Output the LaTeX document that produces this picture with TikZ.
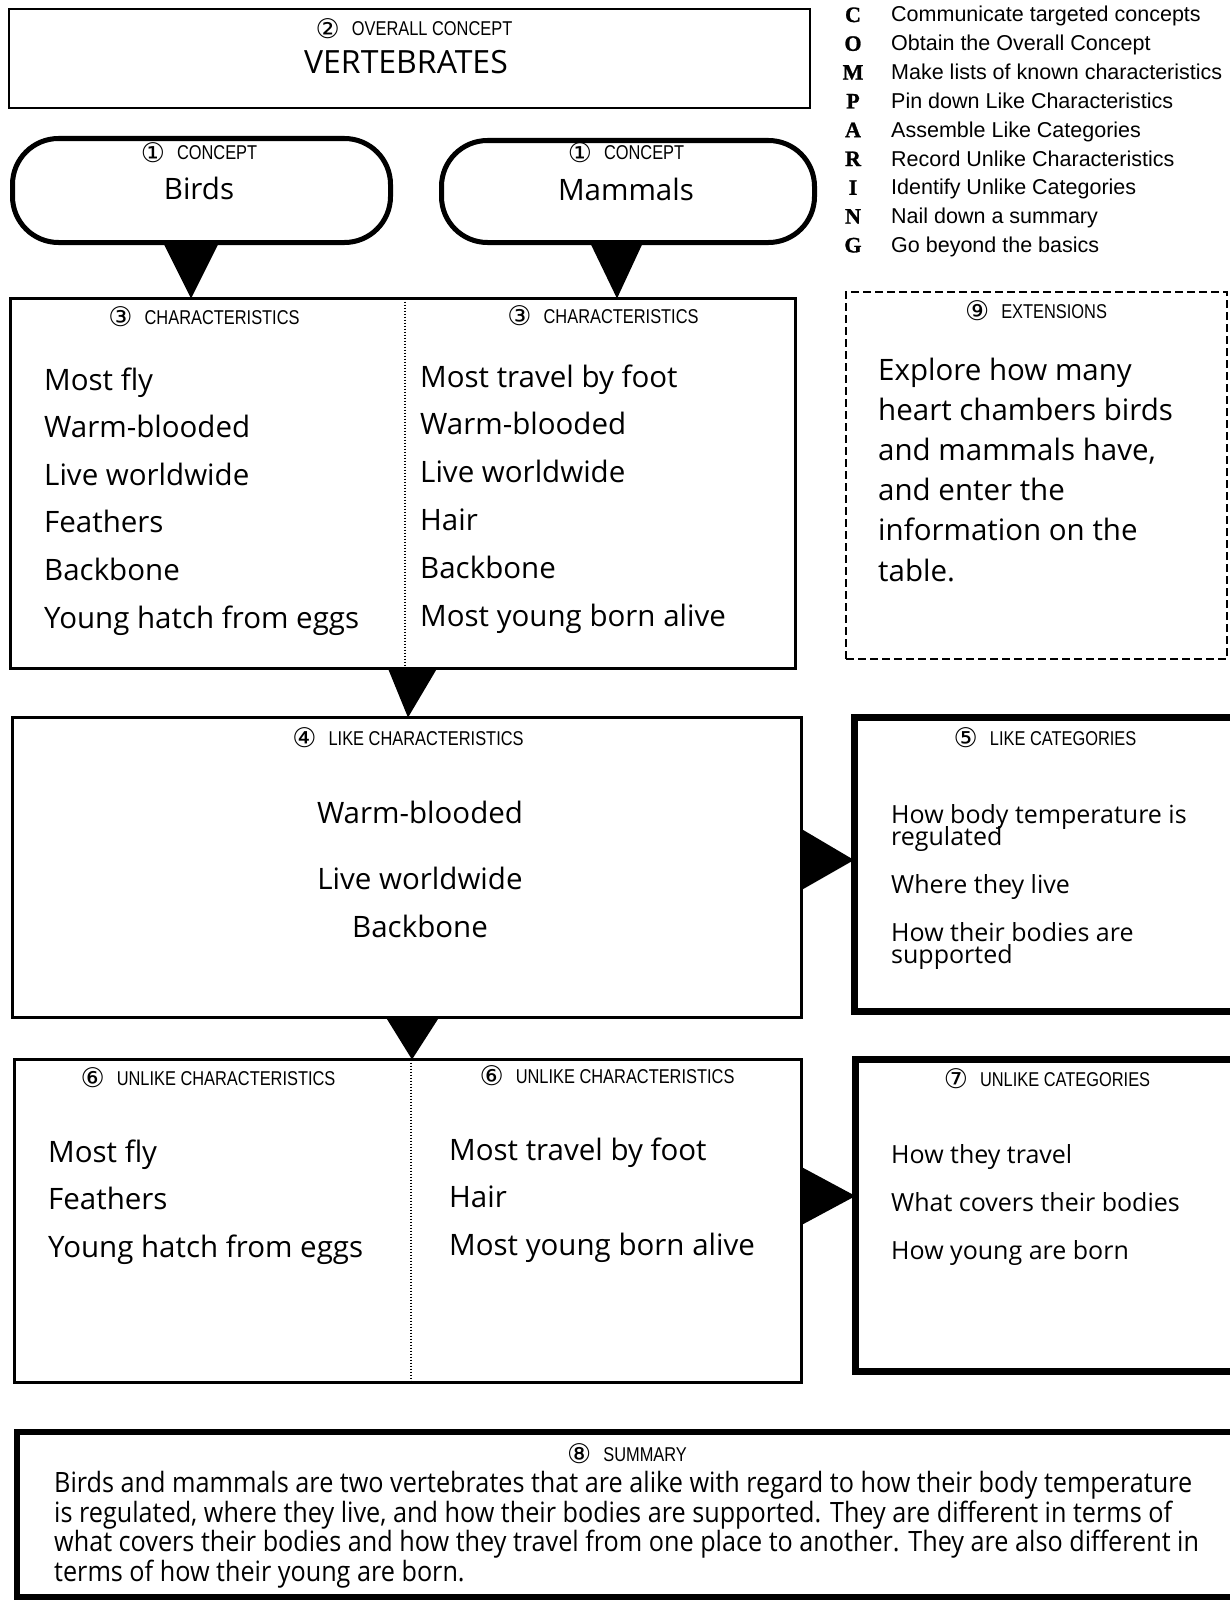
\documentclass[tikz,border=0pt]{standalone}
\usepackage{fontspec}
\setmainfont{Open Sans}
\newfontfamily\handfont{Open Sans}
\newfontfamily\narrowfont[FakeStretch=0.90]{Open Sans}
\newfontfamily\headfont[FakeStretch=0.82]{Liberation Sans}
\newfontfamily\circfont{DejaVu Sans}
\newfontfamily\listfont{Liberation Sans}
\newfontfamily\letterfont[BoldFont={* Bold}, BoldFeatures={FakeBold=1.2}]{Liberation Serif}
\usetikzlibrary{calc}

% circled step number followed by a condensed caps heading
\newcommand{\boxhead}[2]{\raisebox{-2.5pt}[15pt][0pt]{\circfont\fontsize{27}{27}\selectfont #1}\hspace{12pt}{\headfont\fontsize{20}{20}\selectfont #2}}

\tikzset{
  frame/.style={draw, line width=2.5pt, inner sep=0pt, outer sep=0pt},
  heavyframe/.style={draw, line width=7pt, inner sep=0pt, outer sep=0pt},
  conceptframe/.style={draw, line width=5pt, rounded corners=46pt, inner sep=0pt, outer sep=0pt},
  extframe/.style={draw, line width=2pt, dash pattern=on 8pt off 4pt, inner sep=0pt, outer sep=0pt},
  divider/.style={line width=1.8pt, dash pattern=on 1.6pt off 1.4pt},
  pointer/.style={fill=black},
  headtext/.style={anchor=base, inner sep=0pt},
  itemtext/.style={anchor=base west, inner sep=0pt, font=\handfont\fontsize{29.5}{34}\selectfont},
  centertext/.style={anchor=base, inner sep=0pt, font=\handfont\fontsize{29.5}{34}\selectfont},
  cattext/.style={anchor=base west, inner sep=0pt, font=\handfont\fontsize{25}{28}\selectfont},
  sumtext/.style={anchor=base west, inner sep=0pt, font=\narrowfont\fontsize{28}{30}\selectfont},
  stepletter/.style={anchor=base, inner sep=0pt, font=\letterfont\bfseries\fontsize{22}{22}\selectfont},
  steptext/.style={anchor=base west, inner sep=0pt, font=\listfont\fontsize{21.5}{22}\selectfont},
}

\begin{document}
\begin{tikzpicture}[x=1pt, y=-1pt]
\useasboundingbox (0,0) rectangle (1230,1600);
\clip (0,0) rectangle (1230,1600);

% ---- frames ----
\node[frame, minimum width=801pt, minimum height=99pt] (overall) at (409.5,58.5) {};
\node[conceptframe, minimum width=378pt, minimum height=104pt] (birds) at (201.5,190.5) {};
\node[conceptframe, minimum width=373pt, minimum height=102pt] (mammals) at (628,191.5) {};
\node[frame, minimum width=785pt, minimum height=370pt] (chars) at (403,483.5) {};
\node[frame, minimum width=789pt, minimum height=300pt] (like) at (407,867.5) {};
\node[frame, minimum width=787pt, minimum height=323pt] (unlike) at (408,1221) {};
\node[heavyframe, minimum width=386pt, minimum height=294pt] (likecat) at (1047,864) {};
\node[heavyframe, minimum width=384.5pt, minimum height=312pt] (unlikecat) at (1047.75,1215.5) {};
\node[extframe, minimum width=381pt, minimum height=367pt] (ext) at (1036.5,475.5) {};
\node[draw, line width=6pt, inner sep=0pt, minimum width=1223pt, minimum height=165pt] (summary) at (628.5,1514.5) {};

% ---- dotted column dividers ----
\draw[divider] ($(chars.north)+(2,0)$) -- ($(chars.south)+(2,0)$);
\draw[divider] ($(unlike.north)+(3,0)$) -- ($(unlike.south)+(3,0)$);

% ---- pointers between the frames ----
\coordinate (bt) at ($(birds.south)+(-10.5,0)$);
\fill[pointer] ($(birds.south)+(-38.5,0)$) -- ($(birds.south)+(17.5,0)$) -- (bt |- chars.north) -- cycle;
\coordinate (mt) at ($(mammals.south)+(-11,0)$);
\fill[pointer] ($(mammals.south)+(-38,0)$) -- ($(mammals.south)+(15,0)$) -- (mt |- chars.north) -- cycle;
\coordinate (ct) at ($(chars.south)+(5,0)$);
\fill[pointer] ($(chars.south)+(-15,0)$) -- ($(chars.south)+(34,0)$) -- (ct |- like.north) -- cycle;
\coordinate (lt) at ($(like.south)+(5,0)$);
\fill[pointer] ($(like.south)+(-21,0)$) -- ($(like.south)+(32,0)$) -- (lt |- unlike.north) -- cycle;
\coordinate (rt) at ($(like.east)+(0,-7.5)$);
\fill[pointer] ($(like.east)+(0,-38.5)$) -- ($(like.east)+(0,22.5)$) -- (rt -| likecat.west) -- cycle;
\coordinate (ut) at ($(unlike.east)+(0,-25)$);
\fill[pointer] ($(unlike.east)+(0,-54)$) -- ($(unlike.east)+(0,4)$) -- (ut -| unlikecat.west) -- cycle;

% ---- headings ----
\node[headtext] (h2) at (414,36) {\boxhead{②}{OVERALL CONCEPT}};
\node[headtext, font=\handfont\fontsize{32}{32}\selectfont] (vert) at (406,74) {VERTEBRATES};
\node[headtext] (h1a) at (199,160) {\boxhead{①}{CONCEPT}};
\node[headtext, font=\handfont\fontsize{29.5}{30}\selectfont] (birdsname) at (199,199) {Birds};
\node[headtext] (h1b) at (626,160) {\boxhead{①}{CONCEPT}};
\node[headtext, font=\handfont\fontsize{29.5}{30}\selectfont] (mammalsname) at (626,200) {Mammals};
\node[headtext] (h3a) at (204,324) {\boxhead{③}{CHARACTERISTICS}};
\node[headtext] (h3b) at (603,323) {\boxhead{③}{CHARACTERISTICS}};
\node[headtext] (h9) at (1036,318) {\boxhead{⑨}{EXTENSIONS}};
\node[headtext] (h4) at (408,745) {\boxhead{④}{LIKE CHARACTERISTICS}};
\node[headtext] (h5) at (1045,745) {\boxhead{⑤}{LIKE CATEGORIES}};
\node[headtext] (h6a) at (208,1085) {\boxhead{⑥}{UNLIKE CHARACTERISTICS}};
\node[headtext] (h6b) at (607,1083) {\boxhead{⑥}{UNLIKE CHARACTERISTICS}};
\node[headtext] (h7) at (1047,1086) {\boxhead{⑦}{UNLIKE CATEGORIES}};
\node[headtext] (h8) at (627,1461) {\boxhead{⑧}{SUMMARY}};

% ---- COMPARING steps ----
\foreach \L/\T [count=\i from 0] in {C/Communicate targeted concepts, O/Obtain the Overall Concept, M/Make lists of known characteristics, P/Pin down Like Characteristics, A/Assemble Like Categories, R/Record Unlike Characteristics, I/Identify Unlike Categories, N/Nail down a summary, G/Go beyond the basics}{
  \node[stepletter] (L\i) at (853,{22+28.8*\i}) {\L};
  \node[steptext] (T\i) at (891,{22+28.8*\i}) {\T};
}

% ---- characteristics of each concept ----
\foreach \T [count=\i from 0] in {Most fly, Warm-blooded, Live worldwide, Feathers, Backbone, Young hatch from eggs}{
  \node[itemtext] (cb\i) at (44,{390+47.6*\i}) {\T};
}
\foreach \T [count=\i from 0] in {Most travel by foot, Warm-blooded, Live worldwide, Hair, Backbone, Most young born alive}{
  \node[itemtext] (cm\i) at (420,{387+47.8*\i}) {\T};
}

% ---- extensions ----
\foreach \T [count=\i from 0] in {Explore how many, heart chambers birds, {and mammals have,}, and enter the, information on the, table.}{
  \node[itemtext] (ex\i) at (878,{380+40.2*\i}) {\T};
}

% ---- like characteristics ----
\node[centertext] (lk1) at (420,823) {Warm-blooded};
\node[centertext] (lk2) at (420,889) {Live worldwide};
\node[centertext] (lk3) at (420,937) {Backbone};

% ---- like categories ----
\node[cattext] (lc1) at (891,823) {How body temperature is};
\node[cattext] (lc1b) at (891,845) {regulated};
\node[cattext] (lc2) at (891,893) {Where they live};
\node[cattext] (lc3) at (891,941) {How their bodies are};
\node[cattext] (lc3b) at (891,963) {supported};

% ---- unlike characteristics ----
\foreach \T [count=\i from 0] in {Most fly, Feathers, Young hatch from eggs}{
  \node[itemtext] (ub\i) at (48,{1162+47.5*\i}) {\T};
}
\foreach \T [count=\i from 0] in {Most travel by foot, Hair, Most young born alive}{
  \node[itemtext] (um\i) at (449,{1160+47.5*\i}) {\T};
}

% ---- unlike categories ----
\foreach \T [count=\i from 0] in {How they travel, What covers their bodies, How young are born}{
  \node[cattext] (uc\i) at (891,{1163+48*\i}) {\T};
}

% ---- summary ----
\node[sumtext] (s1) at (54,1492) {Birds and mammals are two vertebrates that are alike with regard to how their body temperature};
\node[sumtext] (s2) at (54,1522) {is regulated, where they live, and how their bodies are supported. They are different in terms of};
\node[sumtext] (s3) at (54,1551) {what covers their bodies and how they travel from one place to another. They are also different in};
\node[sumtext] (s4) at (54,1581) {terms of how their young are born.};
\end{tikzpicture}
\end{document}
